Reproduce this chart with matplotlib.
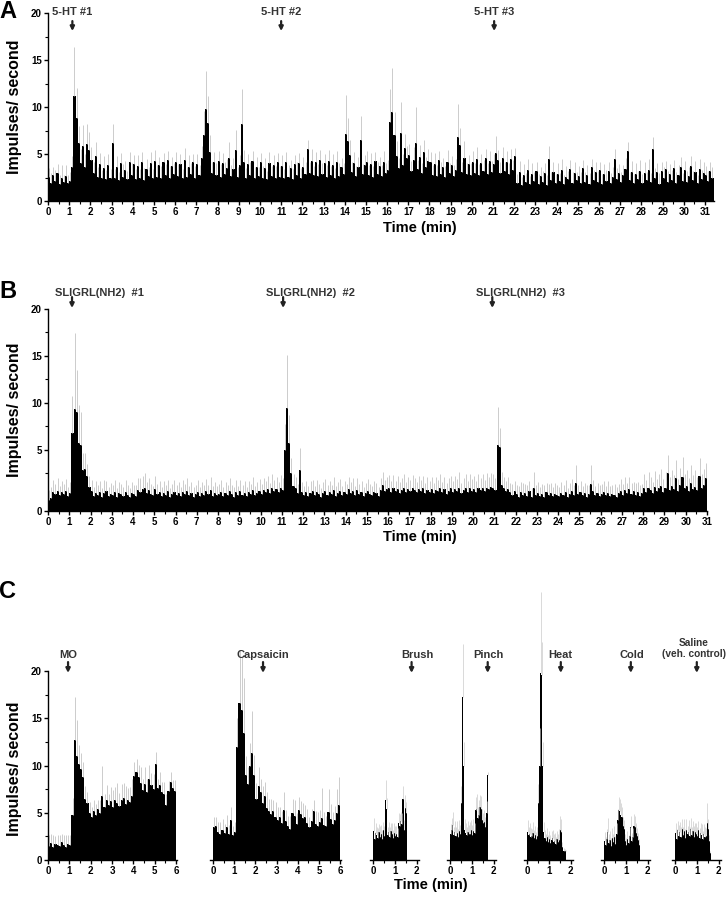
import numpy as np
import matplotlib
matplotlib.use('Agg')
import matplotlib.pyplot as plt
from matplotlib.ticker import MultipleLocator, FixedLocator

plt.rcParams['font.family'] = ['Liberation Sans', 'DejaVu Sans']
plt.rcParams['font.weight'] = 'bold'

W, H = 728, 899

# ---------------- Panel A: 5-HT, 0.1 min bins ----------------
a_mean = [
    2.6, 1.9, 2.8, 2.1, 3.0, 1.8, 2.5, 2.0, 2.7, 1.9,
    2.1, 3.6, 11.2, 8.8, 6.2, 4.0, 5.9, 3.6, 6.1, 5.4,
    4.4, 3.0, 4.8, 2.6, 3.9, 2.4, 3.5, 2.3, 3.8, 2.5,
    6.2, 2.4, 3.6, 2.2, 4.0, 2.6, 3.3, 2.3, 4.1, 2.8,
    3.9, 2.3, 3.7, 2.5, 4.2, 2.2, 3.4, 2.7, 4.0, 2.4,
    4.3, 2.6, 3.8, 2.4, 4.1, 2.8, 4.4, 2.5, 3.7, 2.9,
    4.2, 2.7, 3.9, 2.5, 4.4, 2.6, 3.6, 2.9, 4.1, 2.5,
    3.9, 2.8, 4.6, 7.0, 9.8, 8.3, 5.2, 3.0, 4.2, 2.8,
    4.3, 2.6, 4.0, 2.9, 3.5, 4.6, 2.7, 3.4, 5.4, 2.6,
    3.8, 8.2, 4.2, 2.5, 3.9, 2.8, 4.3, 2.4, 3.6, 2.7,
    4.1, 2.5, 3.5, 2.3, 4.0, 2.7, 3.8, 2.4, 4.2, 2.6,
    3.7, 2.4, 4.1, 2.6, 3.5, 2.3, 3.9, 2.8, 4.0, 2.5,
    3.6, 2.9, 5.5, 3.0, 4.3, 2.8, 4.1, 2.7, 4.4, 2.9,
    4.0, 2.6, 4.3, 2.8, 3.8, 2.5, 4.2, 2.7, 3.6, 2.9,
    7.1, 6.4, 4.9, 3.1, 4.0, 2.7, 3.6, 6.5, 2.9, 3.8,
    4.2, 2.8, 3.9, 2.6, 4.3, 2.9, 3.7, 2.7, 4.1, 3.0,
    3.3, 8.4, 9.5, 7.0, 4.8, 3.5, 7.2, 3.8, 5.6, 4.6,
    4.9, 3.2, 4.4, 6.2, 3.4, 4.7, 3.0, 5.2, 3.6, 4.3,
    4.1, 2.8, 3.9, 2.7, 4.4, 2.9, 3.6, 2.6, 4.2, 3.0,
    3.8, 2.7, 3.3, 6.8, 6.0, 3.1, 4.6, 2.9, 3.9, 2.8,
    4.2, 3.0, 4.5, 2.8, 4.0, 3.2, 4.6, 2.9, 4.3, 3.1,
    3.9, 5.1, 4.4, 3.0, 4.6, 3.2, 4.1, 2.9, 4.5, 3.3,
    4.8, 1.9, 3.1, 1.7, 2.8, 2.0, 3.3, 1.8, 2.9, 2.1,
    3.2, 1.8, 2.7, 2.0, 3.0, 1.7, 4.5, 2.2, 3.1, 1.9,
    2.9, 2.1, 3.3, 1.8, 2.6, 2.3, 3.4, 1.9, 3.0, 2.2,
    2.7, 1.9, 3.5, 2.0, 2.8, 1.8, 3.6, 2.2, 3.1, 2.0,
    3.3, 1.8, 2.9, 2.1, 3.2, 1.9, 2.6, 4.5, 2.3, 3.0,
    2.0, 2.8, 3.4, 5.3, 2.2, 3.1, 1.9, 2.9, 2.3, 3.2,
    1.9, 3.0, 2.2, 3.3, 2.0, 5.5, 2.4, 3.1, 1.8, 3.2,
    2.5, 3.4, 2.0, 2.9, 2.2, 3.5, 1.9, 2.8, 3.6, 2.1,
    3.3, 2.0, 2.7, 3.7, 2.2, 3.1, 1.9, 3.4, 2.3, 3.0,
    2.8, 2.1, 3.2, 2.4,
]
a_sem = [
    0.9, 1.1, 0.8, 1.2, 0.9, 1.0, 1.3, 0.8, 1.1, 0.9,
    1.0, 1.2, 5.2, 3.2, 1.8, 1.5, 2.2, 1.4, 2.1, 1.9,
    1.3, 1.1, 1.5, 1.0, 1.2, 0.9, 1.3, 1.0, 1.2, 0.9,
    2.0, 1.0, 1.2, 0.9, 1.1, 1.3, 1.0, 0.9, 1.1, 1.2,
    1.0, 1.1, 1.2, 0.9, 1.0, 1.3, 1.1, 0.9, 1.2, 1.0,
    1.1, 1.2, 0.9, 1.3, 1.0, 1.1, 0.9, 1.2, 1.0, 1.1,
    1.0, 1.2, 1.1, 0.9, 1.2, 1.0, 1.3, 1.1, 0.9, 1.2,
    1.1, 1.0, 1.3, 2.6, 4.0, 2.9, 1.8, 1.1, 1.0, 1.2,
    1.0, 1.3, 1.1, 1.2, 1.0, 1.7, 1.1, 1.2, 2.2, 1.0,
    1.1, 3.7, 1.2, 1.0, 1.1, 1.3, 1.0, 1.2, 1.1, 0.9,
    1.0, 1.2, 1.1, 0.9, 1.2, 1.0, 1.1, 1.3, 0.9, 1.1,
    1.2, 1.0, 1.1, 1.2, 0.9, 1.1, 1.0, 1.3, 1.1, 1.0,
    1.1, 1.2, 1.0, 1.1, 1.2, 0.9, 1.1, 1.2, 1.0, 1.1,
    1.0, 1.2, 1.1, 0.9, 1.2, 1.0, 1.1, 1.3, 1.0, 1.1,
    4.2, 2.4, 1.6, 1.1, 1.2, 1.0, 1.1, 2.5, 1.0, 1.1,
    1.1, 1.0, 1.2, 1.1, 0.9, 1.2, 1.0, 1.1, 1.2, 1.0,
    1.1, 3.5, 4.7, 2.5, 1.6, 1.1, 3.3, 1.2, 1.5, 1.3,
    1.2, 1.1, 1.3, 3.8, 1.0, 1.3, 1.0, 1.3, 1.1, 1.2,
    1.1, 1.0, 1.2, 1.1, 0.9, 1.2, 1.0, 1.1, 1.2, 1.0,
    1.0, 1.1, 1.2, 3.5, 1.8, 1.0, 1.8, 1.1, 1.0, 1.2,
    1.1, 1.0, 1.2, 1.1, 1.0, 1.2, 0.9, 1.1, 1.0, 1.2,
    1.1, 1.8, 1.0, 1.2, 1.1, 1.0, 1.2, 1.1, 1.0, 1.1,
    0.8, 1.0, 1.2, 0.9, 1.1, 1.0, 1.2, 0.9, 1.1, 1.0,
    1.0, 1.1, 0.9, 1.2, 1.0, 1.1, 1.3, 0.9, 1.1, 1.0,
    1.1, 0.9, 1.2, 1.0, 1.1, 0.9, 1.0, 1.2, 1.1, 0.9,
    1.0, 1.2, 0.9, 1.1, 1.0, 1.2, 0.9, 1.1, 1.0, 1.2,
    0.9, 1.1, 1.0, 1.2, 0.9, 1.1, 1.0, 1.0, 1.2, 0.9,
    1.1, 1.0, 1.2, 1.0, 0.9, 1.2, 1.0, 1.1, 0.9, 1.2,
    1.0, 1.1, 0.9, 1.2, 1.0, 1.3, 1.1, 0.9, 1.2, 1.0,
    1.1, 0.9, 1.2, 1.0, 1.1, 0.9, 1.2, 1.0, 1.1, 0.9,
    1.0, 1.2, 0.9, 1.1, 1.0, 1.2, 0.9, 1.1, 1.0, 1.2,
    0.9, 1.1, 1.0, 1.2,
]
a_arrows = [1.15, 11.0, 21.05]
a_labels = ['5-HT #1', '5-HT #2', '5-HT #3']

# ---------------- Panel B: SLIGRL(NH2), 0.1 min bins ----------------
# axis floor sits at -1.5 (the "0" label is drawn there in the original)
b_mean = [
    -0.3, -0.1, 0.5, 0.3, 0.6, 0.2, 0.5, 0.3, 0.6, 0.1,
    0.4, 6.8, 9.4, 9.0, 5.7, 5.5, 2.9, 3.0, 2.2, 1.1,
    0.6, 0.1, 0.4, 0.2, 0.5, 0.0, 0.4, 0.6, 0.1, 0.3,
    0.2, 0.5, 0.0, 0.4, 0.3, 0.1, 0.5, 0.2, 0.0, 0.4,
    0.3, 0.1, 0.7, 0.5, 0.8, 0.9, 0.4, 0.7, 0.3, 0.2,
    0.8, 0.3, 0.5, 0.1, 0.4, 0.2, 0.6, 0.0, 0.3, 0.5,
    0.2, 0.4, 0.1, 0.5, 0.3, 0.6, 0.2, 0.4, 0.0, 0.3,
    0.5, 0.1, 0.4, 0.2, 0.6, 0.3, 0.7, 0.1, 0.4, 0.2,
    0.3, 0.5, 0.1, 0.4, 0.2, 0.6, 0.3, 0.0, 0.5, 0.2,
    0.6, 0.2, 0.4, 0.1, 0.5, 0.3, 0.7, 0.2, 0.4, 0.6,
    0.3, 0.7, 0.5, 0.8, 0.4, 0.9, 0.6, 0.8, 0.5, 0.9,
    0.7, 5.0, 9.5, 5.7, 2.5, 1.2, 1.0, 0.4, 2.9, 0.5,
    0.2, 0.5, 0.1, 0.4, 0.6, 0.2, 0.5, 0.3, 0.0, 0.4,
    0.6, 0.2, 0.5, 0.3, 0.7, 0.1, 0.4, 0.6, 0.2, 0.5,
    0.3, 0.8, 0.4, 0.6, 0.2, 0.7, 0.3, 0.5, 0.1, 0.4,
    0.6, 0.3, 0.2, 0.5, 0.4, 0.1, 0.7, 1.3, 0.6, 0.8,
    0.9, 0.5, 1.0, 0.6, 0.8, 0.4, 0.7, 0.9, 0.5, 0.8,
    0.6, 0.9, 0.7, 0.5, 0.8, 0.6, 0.9, 0.4, 0.7, 0.5,
    0.8, 0.4, 0.7, 0.6, 0.9, 0.5, 0.8, 0.3, 0.6, 0.9,
    0.5, 0.8, 0.6, 1.0, 0.4, 0.7, 0.9, 0.5, 1.0, 0.6,
    0.8, 0.5, 0.9, 0.7, 1.0, 0.6, 0.9, 0.8, 1.1, 0.9,
    0.7, 5.5, 5.3, 1.3, 0.9, 0.6, 0.8, 0.5, 0.2, 0.6,
    0.3, 0.0, 0.5, 0.2, 0.4, 0.1, 0.6, 0.0, 0.9, 0.2,
    0.4, 0.1, 0.3, 0.0, 0.5, 0.2, 0.4, 0.1, 0.3, 0.2,
    0.1, 0.4, 0.2, 0.5, 0.0, 0.3, 0.6, 0.2, 1.5, 0.3,
    0.5, 0.2, 0.4, 0.0, 0.3, 1.4, 0.6, 0.2, 0.4, 0.1,
    0.3, 0.5, 0.2, 0.4, 0.1, 0.3, 0.2, 0.0, 0.4, 0.6,
    0.2, 0.7, 0.4, 0.8, 0.3, 0.6, 0.2, 0.5, 0.1, 0.4,
    0.9, 0.5, 1.0, 0.7, 0.4, 1.1, 0.6, 0.9, 1.2, 0.5,
    1.0, 2.5, 0.7, 1.2, 0.8, 2.0, 0.6, 1.3, 2.1, 0.9,
    1.2, 0.6, 1.5, 0.8, 1.1, 0.7, 2.2, 0.9, 1.3, 2.0,
]
b_sem = [
    1.0, 1.2, 1.3, 1.1, 1.4, 1.0, 1.2, 1.1, 1.3, 1.0,
    1.2, 3.9, 8.0, 4.5, 4.1, 3.5, 1.8, 1.7, 1.3, 1.1,
    1.2, 1.0, 1.3, 1.1, 1.2, 1.0, 1.4, 1.1, 1.0, 1.2,
    1.1, 1.3, 1.0, 1.2, 1.1, 1.0, 1.3, 1.1, 1.0, 1.2,
    1.0, 1.2, 1.3, 1.5, 1.4, 1.6, 1.2, 1.3, 1.1, 1.0,
    1.4, 1.1, 1.2, 1.0, 1.3, 1.1, 1.2, 1.0, 1.1, 1.3,
    1.1, 1.2, 1.0, 1.3, 1.1, 1.4, 1.0, 1.2, 1.1, 1.0,
    1.3, 1.0, 1.2, 1.1, 1.3, 1.0, 1.4, 1.1, 1.2, 1.0,
    1.1, 1.3, 1.0, 1.2, 1.1, 1.4, 1.0, 1.1, 1.3, 1.0,
    1.2, 1.1, 1.3, 1.0, 1.2, 1.1, 1.4, 1.0, 1.2, 1.3,
    1.1, 1.3, 1.2, 1.4, 1.1, 1.5, 1.2, 1.3, 1.1, 1.4,
    1.3, 2.8, 5.6, 3.0, 1.6, 1.2, 1.1, 1.0, 2.3, 1.1,
    1.0, 1.2, 1.1, 1.3, 1.2, 1.0, 1.3, 1.1, 1.0, 1.2,
    1.3, 1.1, 1.2, 1.0, 1.4, 1.1, 1.2, 1.3, 1.0, 1.2,
    1.1, 1.3, 1.2, 1.4, 1.0, 1.3, 1.1, 1.2, 1.0, 1.1,
    1.3, 1.1, 1.0, 1.2, 1.1, 1.0, 1.3, 1.4, 1.2, 1.3,
    1.4, 1.2, 1.3, 1.1, 1.4, 1.2, 1.3, 1.5, 1.1, 1.3,
    1.2, 1.4, 1.3, 1.1, 1.4, 1.2, 1.3, 1.1, 1.4, 1.2,
    1.3, 1.1, 1.4, 1.2, 1.5, 1.1, 1.3, 1.2, 1.4, 1.3,
    1.2, 1.4, 1.3, 1.6, 1.1, 1.3, 1.5, 1.2, 1.4, 1.3,
    1.4, 1.2, 1.5, 1.3, 1.4, 1.2, 1.6, 1.3, 1.4, 1.5,
    1.3, 4.1, 2.0, 1.3, 1.2, 1.1, 1.3, 1.0, 1.2, 1.1,
    1.0, 1.2, 1.1, 1.3, 1.0, 1.2, 1.1, 1.0, 1.8, 1.1,
    1.2, 1.0, 1.1, 1.3, 1.0, 1.2, 1.1, 1.0, 1.2, 1.1,
    1.0, 1.2, 1.1, 1.3, 1.0, 1.2, 1.3, 1.1, 1.9, 1.0,
    1.2, 1.0, 1.1, 1.3, 1.0, 2.0, 1.2, 1.0, 1.1, 1.2,
    1.1, 1.2, 1.0, 1.3, 1.1, 1.0, 1.2, 1.1, 1.0, 1.3,
    1.2, 1.4, 1.1, 1.3, 1.2, 1.0, 1.3, 1.1, 1.2, 1.0,
    1.5, 1.3, 1.6, 1.4, 1.2, 1.7, 1.3, 1.5, 1.8, 1.4,
    1.6, 2.0, 1.4, 1.7, 1.5, 1.9, 1.3, 1.8, 2.1, 1.5,
    1.7, 1.4, 1.9, 1.5, 1.8, 1.4, 1.9, 1.5, 1.7, 1.6,
]
b_arrows = [1.13, 11.06, 20.9]
b_labels = ['SLIGRL(NH2)  #1', 'SLIGRL(NH2)  #2', 'SLIGRL(NH2)  #3']

# ---------------- Panel C: stimuli ----------------
mo_mean = [
    1.5, 1.8, 1.4, 1.7, 1.6, 1.5, 1.9, 1.6, 1.4, 1.7,
    1.6, 4.8, 12.7, 11.0, 10.2, 9.6, 8.8, 6.5, 6.0, 5.0,
    4.6, 5.2, 4.8, 5.4, 5.0, 6.8, 5.6, 6.3, 5.8, 6.2,
    5.6, 6.4, 6.0, 5.7, 6.3, 6.6, 5.9, 6.4, 6.1, 6.8,
    8.9, 9.3, 8.8, 8.2, 7.4, 8.0, 7.2, 8.6, 7.9, 7.5,
    10.2, 7.6, 7.9, 7.2, 7.0, 5.8, 7.3, 8.3, 7.6, 7.3,
]
mo_sem = [
    1.1, 0.9, 1.2, 0.8, 1.0, 1.1, 0.9, 1.0, 1.2, 0.9,
    1.0, 1.8, 4.6, 3.8, 2.0, 1.7, 1.6, 1.3, 1.2, 1.1,
    1.0, 1.2, 1.1, 1.0, 1.3, 3.2, 1.4, 1.6, 1.2, 1.5,
    1.8, 1.3, 2.1, 1.4, 1.7, 1.5, 1.9, 1.2, 1.6, 1.8,
    1.5, 1.4, 1.3, 1.6, 1.2, 1.8, 1.4, 1.5, 1.3, 1.6,
    1.2, 1.0, 1.4, 1.1, 1.3, 1.2, 1.1, 1.0, 0.9, 1.2,
]
cap_mean = [
    3.5, 3.6, 3.0, 2.8, 3.2, 2.9, 3.5, 2.7, 4.2, 2.6,
    3.0, 12.0, 16.6, 15.9, 13.4, 9.0, 8.0, 10.0, 11.3, 9.0,
    6.5, 7.8, 7.2, 6.0, 6.8, 5.5, 5.2, 4.9, 5.2, 4.6,
    4.2, 4.5, 3.9, 5.3, 4.1, 3.6, 3.3, 5.0, 4.7, 3.8,
    5.3, 4.9, 4.4, 4.6, 3.9, 3.5, 4.1, 5.2, 3.8, 3.6,
    4.0, 4.4, 3.7, 3.6, 5.1, 4.3, 3.8, 4.2, 5.0, 5.8,
]
cap_sem = [
    1.1, 0.9, 1.0, 1.2, 1.1, 0.9, 1.3, 1.0, 1.4, 1.0,
    1.0, 3.0, 5.6, 5.6, 5.9, 2.0, 1.8, 2.4, 4.5, 2.1,
    1.6, 2.0, 1.4, 1.8, 1.5, 1.7, 1.3, 1.6, 1.2, 1.5,
    1.4, 1.1, 1.3, 1.9, 1.2, 1.1, 1.4, 1.5, 1.6, 1.2,
    1.4, 1.3, 1.6, 1.2, 1.5, 1.1, 1.3, 1.2, 1.4, 1.5,
    1.3, 3.2, 1.4, 1.1, 2.4, 1.6, 1.3, 1.5, 2.5, 3.0,
]
# 0.05 min bins
brush_mean = [3.1, 2.2, 2.9, 2.6, 2.3, 3.0, 2.4, 2.8, 2.2, 3.2, 2.5, 6.4, 5.4, 2.6, 3.0, 2.4,
              3.1, 2.7, 2.3, 2.9, 2.5, 2.8, 2.4, 3.9, 3.6, 4.1, 3.8, 6.5, 3.2, 5.5, 5.0]
brush_sem = [1.3, 0.8, 1.0, 0.9, 1.1, 0.8, 1.2, 0.9, 1.0, 0.8, 1.1, 2.1, 1.2, 0.9, 1.0, 1.1,
             0.8, 1.2, 0.9, 1.0, 1.1, 0.8, 1.0, 1.1, 1.3, 1.0, 1.2, 1.3, 1.0, 1.4, 1.1]
pinch_mean = [2.8, 3.2, 3.7, 2.6, 3.0, 2.5, 2.9, 2.4, 3.1, 2.7, 6.0, 17.3, 10.0, 3.2, 2.9, 2.6,
              3.0, 2.7, 2.8, 3.2, 2.6, 3.1, 2.9, 5.3, 5.4, 4.4, 4.8, 5.6, 5.4, 4.2, 3.9, 4.0,
              3.5, 5.0, 9.0]
pinch_sem = [1.0, 1.2, 1.4, 0.9, 1.1, 1.0, 1.2, 0.9, 1.1, 1.0, 1.8, 5.6, 2.5, 1.1, 1.0, 0.9,
             1.1, 1.0, 1.2, 1.0, 1.1, 1.2, 1.0, 1.4, 1.6, 1.2, 1.5, 1.3, 1.4, 1.2, 1.1, 1.3,
             1.0, 1.2, 0.3]
heat_mean = [3.0, 2.6, 2.8, 2.4, 2.5, 2.9, 2.3, 2.6, 2.2, 2.5, 6.0, 10.0, 19.8, 19.6, 10.0, 3.0,
             2.3, 2.0, 2.4, 1.9, 2.2, 1.8, 2.1, 2.3, 1.9, 2.0, 1.7, 2.2, 1.9, 2.1, 3.2, 3.0,
             1.4, 1.0, 1.0, 0.9]
heat_sem = [1.2, 0.9, 1.1, 1.0, 0.8, 1.1, 0.9, 1.0, 0.8, 1.0, 2.0, 4.0, 8.6, 3.5, 2.5, 1.0,
            0.9, 0.8, 1.0, 0.7, 0.9, 0.8, 1.0, 0.9, 0.8, 0.9, 0.7, 0.9, 0.8, 1.2, 1.5, 1.3,
            0.5, 0.3, 0.2, 0.2]
cold_mean = [2.0, 1.6, 2.2, 3.0, 1.8, 2.1, 1.5, 2.3, 1.9, 2.4, 1.7, 2.8, 4.2, 5.3, 5.2, 4.8,
             4.5, 3.6, 3.3, 2.0, 1.6, 2.2, 1.8, 2.5, 3.5, 2.0, 2.4, 3.6, 3.5, 2.9, 2.5, 2.1, 1.6]
cold_sem = [1.0, 0.8, 1.1, 1.4, 0.9, 1.0, 0.8, 1.1, 0.9, 1.2, 0.8, 1.1, 1.2, 1.4, 1.3, 1.2,
            1.1, 1.0, 0.9, 0.8, 0.7, 0.9, 0.8, 1.0, 1.2, 0.9, 1.0, 1.3, 1.2, 1.0, 0.9, 0.8, 0.6]
saline_mean = [2.9, 2.2, 3.2, 2.5, 3.0, 2.4, 3.3, 2.6, 3.1, 2.3, 3.2, 2.7, 3.0, 2.5, 3.3, 2.6,
               3.1, 2.4, 3.0, 2.8, 2.5, 3.2, 2.3, 2.9, 2.6, 2.2, 2.8, 2.4, 2.5, 3.9, 3.3, 2.0, 0.7]
saline_sem = [1.0, 1.1, 0.9, 1.2, 1.0, 1.1, 1.0, 0.9, 1.2, 1.0, 1.1, 0.9, 1.2, 1.0, 1.1, 0.9,
              1.0, 1.2, 0.9, 1.1, 1.0, 0.9, 1.1, 1.0, 1.2, 0.9, 1.0, 1.1, 0.9, 2.1, 1.0, 0.6, 0.3]

c_names = ['MO', 'Capsaicin', 'Brush', 'Pinch', 'Heat', 'Cold', 'Saline\n(veh. control)']
c_means = [mo_mean, cap_mean, brush_mean, pinch_mean, heat_mean, cold_mean, saline_mean]
c_sems = [mo_sem, cap_sem, brush_sem, pinch_sem, heat_sem, cold_sem, saline_sem]
c_bins = [0.1, 0.1, 0.05, 0.05, 0.05, 0.05, 0.05]
c_arrows = [0.94, 2.36, 1.77, 1.73, 1.55, 1.23, 1.0]
c_text_x = [0.94, 2.36, 2.05, 1.77, 1.55, 1.27, 0.85]


def px_axes(fig, x0, x1, y_top, y_bot):
    return fig.add_axes([x0 / W, 1 - y_bot / H, (x1 - x0) / W, (y_bot - y_top) / H])


def draw_trace(ax, mean, sem, bw, base=0.0, lw=0.6):
    mean = np.asarray(mean)
    sem = np.asarray(sem)
    edges = np.arange(len(mean) + 1) * bw
    centers = edges[:-1] + bw / 2
    ax.vlines(centers, mean, mean + sem, color='#c4c4c4', lw=lw)
    ax.stairs(mean, edges, baseline=base, fill=True, color='black', lw=0)


def style_axes(ax):
    for s in ['top', 'right']:
        ax.spines[s].set_visible(False)
    for s in ['left', 'bottom']:
        ax.spines[s].set_linewidth(1.0)
    ax.tick_params(which='major', length=3, width=1, labelsize=7, pad=1.5)
    ax.tick_params(which='minor', length=2, width=0.8)


def down_arrow(ax, x, y_tail, y_tip, trans):
    ax.annotate('', xy=(x, y_tip), xytext=(x, y_tail), xycoords=trans, textcoords=trans,
                arrowprops=dict(arrowstyle='-|>', color='#222222', lw=1.6,
                                mutation_scale=6, shrinkA=0, shrinkB=0),
                annotation_clip=False)


fig = plt.figure(figsize=(W / 100, H / 100), dpi=100)

# Panel A
ax = px_axes(fig, 48, 713.5, 13, 201)
draw_trace(ax, a_mean, a_sem, 0.1)
ax.set_xlim(0, 31.4)
ax.set_ylim(0, 20)
style_axes(ax)
ax.xaxis.set_major_locator(MultipleLocator(1))
ax.xaxis.set_minor_locator(MultipleLocator(0.5))
ax.yaxis.set_major_locator(MultipleLocator(5))
ax.yaxis.set_minor_locator(MultipleLocator(2.5))
tr = ax.get_xaxis_transform()
for x, lab in zip(a_arrows, a_labels):
    down_arrow(ax, x, 0.957, 0.904, tr)
    ax.text(x, 1.005, lab, transform=tr, ha='center', va='center', fontsize=8,
            color='#333333', clip_on=False)

# Panel B
ax = px_axes(fig, 48, 707, 309, 511)
draw_trace(ax, b_mean, b_sem, 0.1, base=-1.5)
ax.set_xlim(0, 31)
ax.set_ylim(-1.5, 20)
style_axes(ax)
ax.xaxis.set_major_locator(MultipleLocator(1))
ax.xaxis.set_minor_locator(MultipleLocator(0.5))
ax.yaxis.set_major_locator(FixedLocator([-1.5, 5, 10, 15, 20]))
ax.set_yticklabels(['0', '5', '10', '15', '20'])
ax.yaxis.set_minor_locator(FixedLocator([2.5, 7.5, 12.5, 17.5]))
tr = ax.get_xaxis_transform()
for x, lab in zip(b_arrows, b_labels):
    down_arrow(ax, x, 1.059, 1.005, tr)
    ax.annotate(lab, xy=(x, 1.079), xycoords=tr, xytext=(-12, 0), textcoords='offset points',
                ha='left', va='center', fontsize=8, color='#333333', annotation_clip=False)

# Panel C
zero_px = [48, 213, 373, 450, 527, 604, 675]
for i, name in enumerate(c_names):
    if i == 0:
        ppm = 21.33
        lo, hi = 0.0, 6.05
    elif i == 1:
        ppm = 21.2
        lo, hi = -0.15, 6.05
    else:
        ppm = 21.8
        lo, hi = -0.15, 2.1
    x0 = zero_px[i] + lo * ppm
    x1 = zero_px[i] + hi * ppm
    ax = px_axes(fig, x0, x1, 586, 860)
    draw_trace(ax, c_means[i], c_sems[i], c_bins[i], lw=0.6 if i < 2 else 0.45)
    ax.set_xlim(lo, hi)
    ax.set_ylim(0, 29)
    style_axes(ax)
    ax.xaxis.set_major_locator(MultipleLocator(1))
    ax.xaxis.set_minor_locator(MultipleLocator(0.5))
    if i == 0:
        ax.spines['left'].set_bounds(0, 20)
        ax.yaxis.set_major_locator(FixedLocator([0, 5, 10, 15, 20]))
        ax.yaxis.set_minor_locator(FixedLocator([2.5, 7.5, 12.5, 17.5]))
    else:
        ax.spines['left'].set_visible(False)
        ax.set_yticks([])
    down_arrow(ax, c_arrows[i], 20.95, 19.8, 'data')
    two_line = '\n' in name
    ty = 22.4 if two_line else 21.7
    ax.text(c_text_x[i], ty, name, ha='center', va='center', fontsize=7.3 if two_line else 8,
            color='#333333', linespacing=1.15, clip_on=False)

# panel letters and axis titles
for lab, y in [('A', 12), ('B', 291), ('C', 592)]:
    fig.text(8 / W, 1 - y / H, lab, fontsize=17, ha='center', va='center')
for x, y in [(420, 228), (420, 537), (431, 885)]:
    fig.text(x / W, 1 - y / H, 'Time (min)', fontsize=10.5, ha='center', va='center')
for y in [107, 410, 769]:
    fig.text(15 / W, 1 - y / H, 'Impulses/ second', fontsize=11.5, rotation=90,
             ha='center', va='center')

fig.savefig('out.png', dpi=100)
